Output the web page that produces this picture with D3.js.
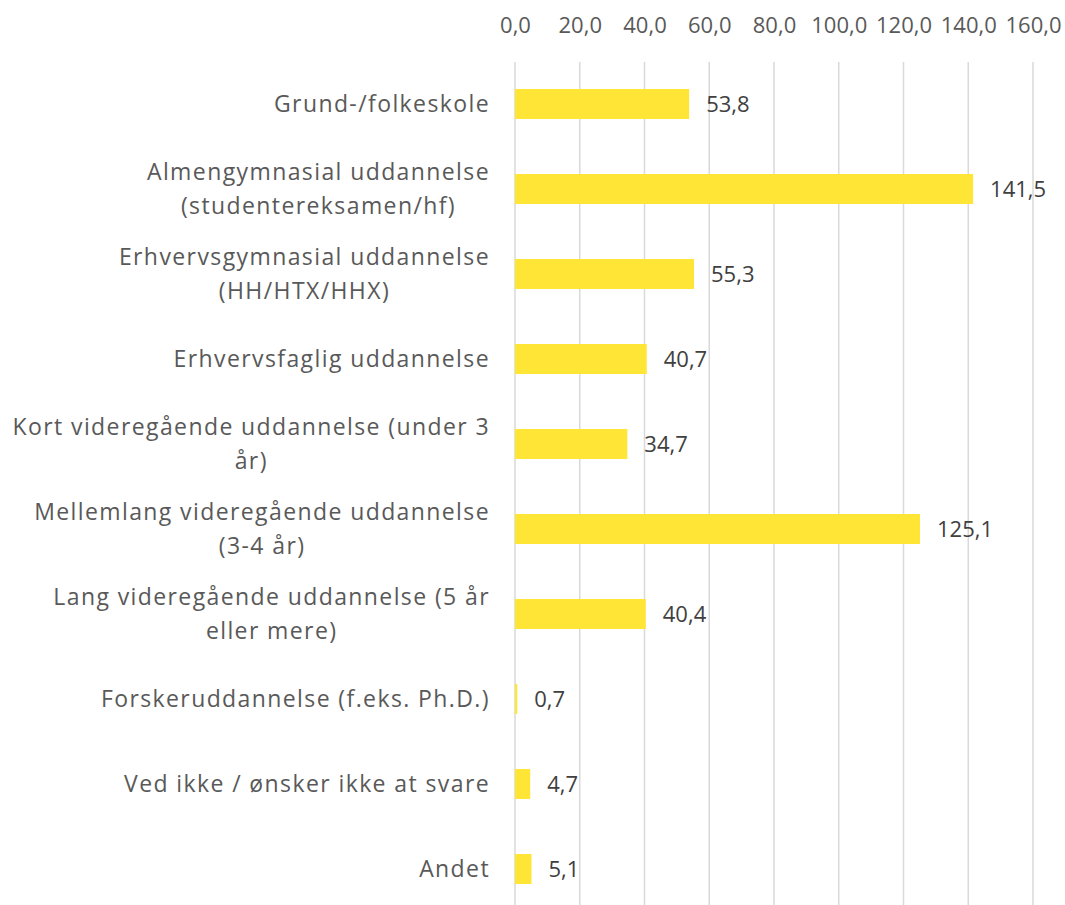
<!DOCTYPE html>
<html>
<head>
<meta charset="utf-8">
<script src="https://cdn.jsdelivr.net/npm/d3@7"></script>
<style>
  body { margin: 0; background: #fff; }
  svg text { font-family: "Open Sans", sans-serif; }
</style>
</head>
<body>
<div id="chart"></div>
<script>
// category labels, already split into the lines shown in the chart
const categories = [
  ["Grund-/folkeskole"],
  ["Almengymnasial uddannelse", "(studentereksamen/hf)"],
  ["Erhvervsgymnasial uddannelse", "(HH/HTX/HHX)"],
  ["Erhvervsfaglig uddannelse"],
  ["Kort videregående uddannelse (under 3", "år)"],
  ["Mellemlang videregående uddannelse", "(3-4 år)"],
  ["Lang videregående uddannelse (5 år", "eller mere)"],
  ["Forskeruddannelse (f.eks. Ph.D.)"],
  ["Ved ikke / ønsker ikke at svare"],
  ["Andet"]
];
const values = [53.8, 141.5, 55.3, 40.7, 34.7, 125.1, 40.4, 0.7, 4.7, 5.1];
const ticks = [0, 20, 40, 60, 80, 100, 120, 140, 160];

const width = 1065, height = 905;
const fmt = (v) => d3.format(".1f")(v).replace(".", ",");

const svg = d3.select("#chart").append("svg")
  .attr("width", width)
  .attr("height", height);

const x = d3.scaleLinear().domain([0, 160]).range([515, 1033]);
const y = d3.scaleBand()
  .domain(d3.range(values.length))
  .range([61.5, 911.5])
  .paddingInner(0.647)
  .paddingOuter(0.3235);

// vertical gridlines
svg.append("g")
  .selectAll("line")
  .data(ticks)
  .enter()
  .append("line")
  .attr("x1", (d) => x(d))
  .attr("x2", (d) => x(d))
  .attr("y1", 62)
  .attr("y2", height)
  .style("stroke", "#d9d9d9")
  .style("stroke-width", 1.5);

// top axis labels
const axis = d3.axisTop(x).tickValues(ticks).tickFormat(fmt).tickSize(0).tickPadding(0);
const gAxis = svg.append("g").attr("transform", "translate(0,33)").call(axis);
gAxis.select(".domain").remove();
gAxis.selectAll("text")
  .style("font-size", "22px")
  .style("fill", "#595959")
  .style("font-family", "'Open Sans', sans-serif");

// bars
svg.append("g")
  .selectAll("rect")
  .data(values)
  .enter()
  .append("rect")
  .attr("x", x(0))
  .attr("y", (d, i) => y(i))
  .attr("width", (d) => x(d) - x(0))
  .attr("height", y.bandwidth())
  .style("fill", "#ffe636");

// value labels
svg.append("g")
  .selectAll("text")
  .data(values)
  .enter()
  .append("text")
  .attr("x", (d) => x(d) + 17)
  .attr("y", (d, i) => y(i) + y.bandwidth() / 2)
  .attr("dy", "0.35em")
  .style("font-size", "22px")
  .style("fill", "#404040")
  .text((d) => fmt(d));

// category labels
const lineH = 34;
const labels = svg.append("g")
  .selectAll("text")
  .data(categories)
  .enter()
  .append("text")
  .attr("text-anchor", "middle")
  .style("font-size", "23px")
  .style("letter-spacing", "1.4px")
  .style("fill", "#595959");

labels.each(function (lines, i) {
  const cy = y(i) + y.bandwidth() / 2;
  const t = d3.select(this);
  const top = cy - ((lines.length - 1) * lineH) / 2;
  lines.forEach((ln, j) => {
    t.append("tspan")
      .attr("x", 0)
      .attr("y", top + j * lineH)
      .attr("dy", "0.35em")
      .text(ln);
  });
  // right-align the block, centre the lines inside it
  const w = this.getBBox().width;
  t.selectAll("tspan").attr("x", 490 - w / 2);
});
</script>
</body>
</html>
